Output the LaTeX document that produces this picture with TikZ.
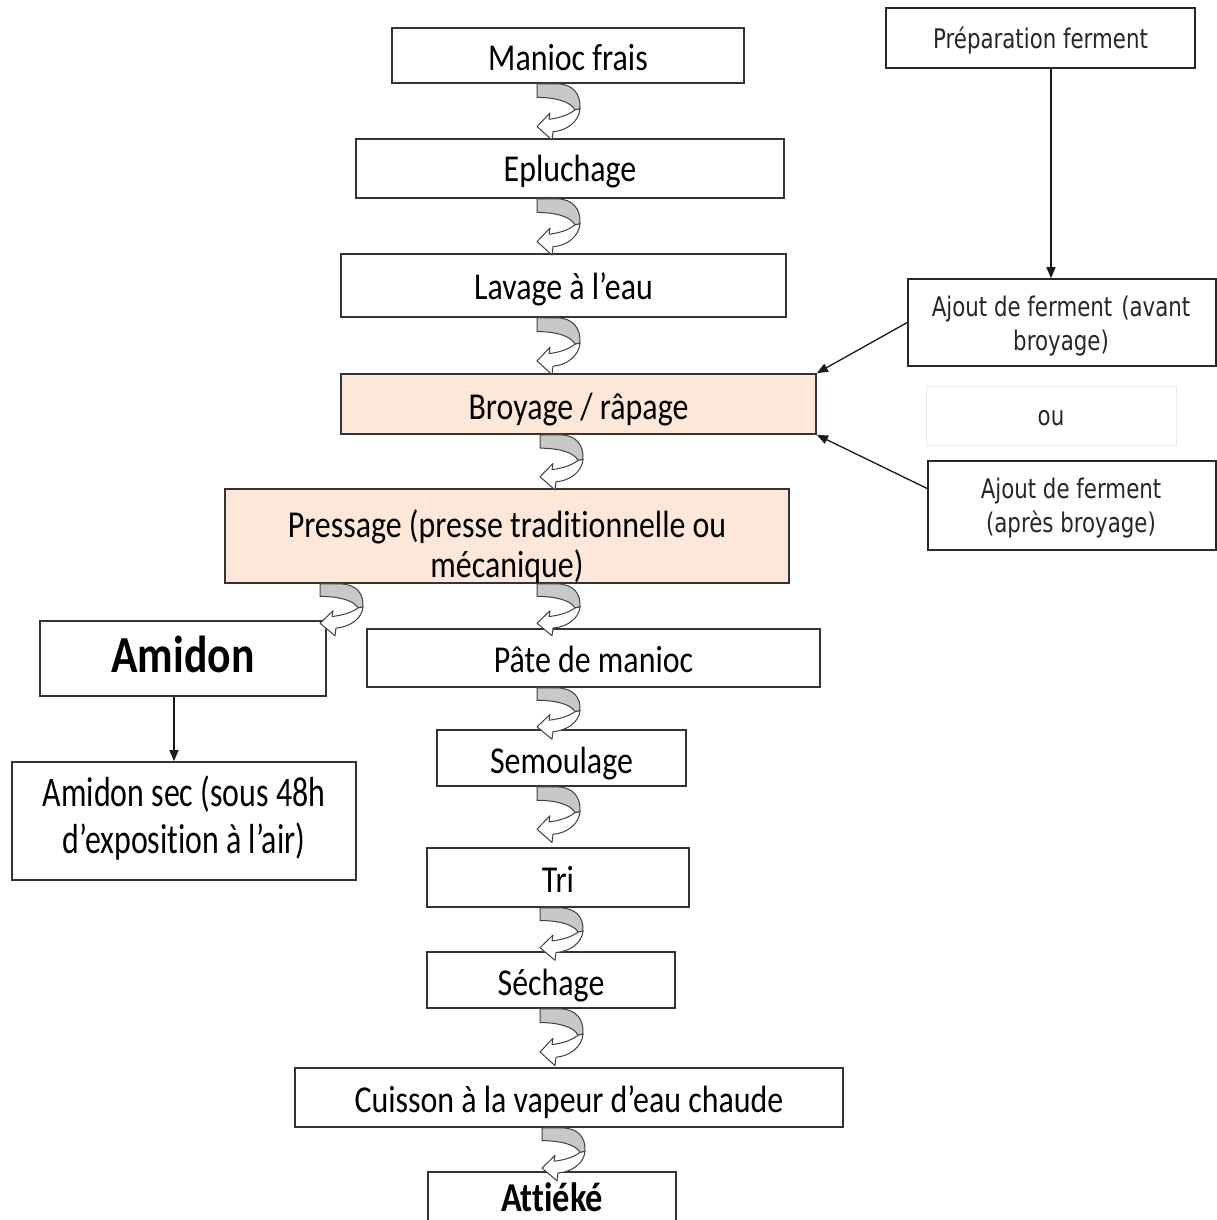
\documentclass[tikz,border=0pt]{standalone}
\usepackage{fontspec}
\usetikzlibrary{arrows.meta,calc}
\newfontfamily\mf[FakeStretch=0.84,Ligatures=NoCommon]{Carlito}
\newfontfamily\mfn[FakeStretch=0.76,Ligatures=NoCommon]{Carlito}
\newfontfamily\rf[FakeStretch=0.79]{DejaVu Sans}
\definecolor{peach}{RGB}{252,231,216}
\definecolor{ribbon}{RGB}{200,200,200}
\tikzset{
  box/.style={draw=black!80, line width=1.8pt, rectangle, inner sep=0pt, align=center,
    text height=32pt, text depth=2pt, font=\mf\fontsize{38}{40}\selectfont},
  txt/.style={inner sep=0pt, align=center, font=\mf\fontsize{38}{40}\selectfont},
  rbox/.style={draw=black!85, line width=1.6pt, rectangle, align=center, inner sep=0pt,
    font=\rf\fontsize{27}{34}\selectfont, text=black!85},
  rtxt/.style={inner sep=0pt, align=center, font=\rf\fontsize{27}{34}\selectfont, text=black!85},
  conn/.style={line width=1.3pt, draw=black!90, -{Triangle[length=11pt,width=9pt]}},
  curv/.pic={
    \filldraw[fill=ribbon, draw=black!75, line width=1pt, line join=round]
      (0,0) -- (20,0) .. controls (36,0) and (44,10) .. (43,24) -- (38,25)
      .. controls (34,17) and (18,13) .. (0,13) -- cycle;
    \filldraw[fill=white, draw=black!75, line width=1pt, line join=round]
      (38,25) .. controls (30,31) and (20,33) .. (12,34) -- (13,28) -- (0,41)
      -- (15,54) -- (16,46) .. controls (30,45) and (42,36) .. (43,24) -- cycle;
  }
}
\begin{document}
\begin{tikzpicture}[x=1pt,y=-1pt]
\fill[white] (0,0) rectangle (1217,1220);
\useasboundingbox (0,0) rectangle (1217,1220);
\clip (0,0) rectangle (1217,1220);

% main column
\node[box, minimum width=352pt, minimum height=55pt] (mf) at (568,55.5) {Manioc frais};
\node[box, minimum width=428pt, minimum height=59pt, text height=28pt] (epl) at (570,168.5) {Epluchage};
\node[box, minimum width=445pt, minimum height=63pt, text height=30pt] (lav) at (563.5,285.5) {Lavage à l’eau};
\node[box, fill=peach, minimum width=475pt, minimum height=60pt] (broy) at (578.5,404) {Broyage / râpage};
\node[box, fill=peach, minimum width=564pt, minimum height=94pt] (press) at (507,536) {};
\node[txt] (presst) at (507,547) {Pressage (presse traditionnelle ou\\mécanique)};
\node[box, minimum width=286pt, minimum height=75pt, text height=30pt, text depth=2pt,
  font=\mf\bfseries\fontsize{52}{54}\selectfont] (amidon) at (183,658.5) {Amidon};
\node[box, minimum width=453pt, minimum height=58pt, text height=30pt] (pate) at (593.5,658) {Pâte de manioc};
\node[box, minimum width=344pt, minimum height=118pt] (amsec) at (184,821) {};
\node[txt, font=\mfn\fontsize{42}{47}\selectfont] (amsect) at (184,818) {Amidon sec (sous 48h\\d’exposition à l’air)};
\node[box, minimum width=249pt, minimum height=56pt] (sem) at (561.5,758) {Semoulage};
\node[box, minimum width=262pt, minimum height=59pt] (tri) at (558,877.5) {Tri};
\node[box, minimum width=248pt, minimum height=56pt] (sech) at (551,980) {Séchage};
\node[box, minimum width=548pt, minimum height=59pt] (cuis) at (569,1097.5) {Cuisson à la vapeur d’eau chaude};
\node[box, minimum width=248pt, minimum height=80pt] (att) at (552,1212) {};
\node[txt, font=\mf\bfseries\fontsize{41}{43}\selectfont] (attt) at (552,1197) {Attiéké};

% right column
\node[rbox, minimum width=309pt, minimum height=60pt, text height=21pt, text depth=0pt] (prep) at (1040.5,38) {Préparation ferment};
\node[rbox, minimum width=308pt, minimum height=87pt] (avant) at (1062,322.5) {};
\node[rtxt] (avantt) at (1061,326) {Ajout de ferment\,\,(avant\\broyage)};
\node[rbox, draw=black!8, line width=1pt, minimum width=250pt, minimum height=59pt, text height=19pt, text depth=0pt] (ou) at (1051,415.5) {ou};
\node[rbox, minimum width=288pt, minimum height=89pt] (apres) at (1072,505.5) {};
\node[rtxt] (aprest) at (1071,508) {Ajout de ferment\\(après broyage)};

% straight connectors
\draw[conn] ([xshift=10.5pt]prep.south) -- ([xshift=10.5pt]prep.south |- avant.north);
\draw[conn] (avant.west) -- (broy.north east);
\draw[conn] ([yshift=17pt]apres.west) -- (broy.south east);
\draw[conn] ([xshift=-9pt]amidon.south) -- ([xshift=-9pt]amidon.south |- amsec.north);

% curved arrows
\coordinate (ax) at (537,0);
\coordinate (bx) at (540,0);
\coordinate (cx) at (320,0);
\pic[yscale=1.04] at (mf.south -| ax) {curv};
\pic[yscale=1.04] at (epl.south -| ax) {curv};
\pic[yscale=1.05] at (lav.south -| ax) {curv};
\pic[yscale=1.02] at (broy.south -| bx) {curv};
\pic[yscale=0.96] at (press.south -| cx) {curv};
\pic[yscale=0.96] at (press.south -| ax) {curv};
\pic[yscale=0.95] at (pate.south -| ax) {curv};
\pic[yscale=1.03] at (sem.south -| ax) {curv};
\pic[yscale=0.97] at (tri.south -| bx) {curv};
\pic[yscale=1.05] at (sech.south -| bx) {curv};
\pic[yscale=0.98] at ([xshift=2pt]cuis.south -| bx) {curv};
\end{tikzpicture}
\end{document}
